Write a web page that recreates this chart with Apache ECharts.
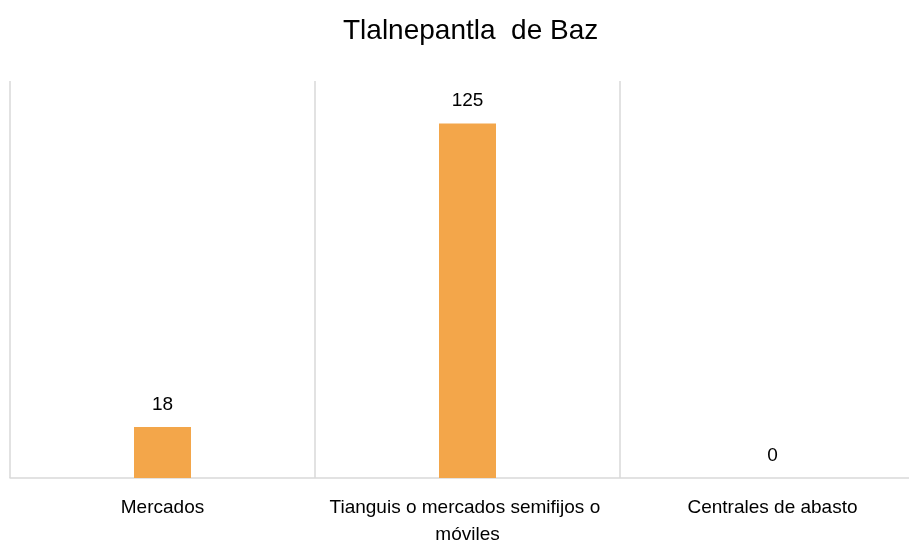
<!DOCTYPE html>
<html>
<head>
<meta charset="utf-8">
<script src="https://cdn.jsdelivr.net/npm/echarts@6/dist/echarts.min.js"></script>
<style>
  html, body { margin: 0; padding: 0; background: #fff; }
  #chart { width: 909px; height: 544px; }
</style>
</head>
<body>
<div id="chart"></div>
<script>
// Establishment counts by type
const categories = ['Mercados', 'Tianguis o mercados semifijos o móviles', 'Centrales de abasto'];
const counts = [18, 125, 0];
const titleText = 'Tlalnepantla  de Baz';

const font = '"Liberation Sans", Arial, sans-serif';
const chart = echarts.init(document.getElementById('chart'));

chart.setOption({
  backgroundColor: '#ffffff',
  animation: false,
  title: {
    text: titleText,
    left: 338,
    top: 12,
    textStyle: { fontFamily: font, fontSize: 28, fontWeight: 'normal', color: '#000' }
  },
  grid: {
    left: 10, top: 81, width: 915, height: 397,
    containLabel: false,
    outerBoundsMode: 'none'
  },
  xAxis: {
    type: 'category',
    data: categories,
    boundaryGap: true,
    axisLine: { show: true, lineStyle: { color: '#d9d9d9', width: 1.5 } },
    axisTick: { show: false },
    splitLine: { show: true, interval: 0, lineStyle: { color: '#d9d9d9', width: 1.5 } },
    axisLabel: {
      interval: 0,
      margin: 16,
      fontFamily: font,
      fontSize: 19,
      lineHeight: 27,
      color: '#000',
      width: 290,
      overflow: 'break'
    }
  },
  yAxis: {
    type: 'value',
    min: 0,
    max: 140,
    show: false,
    splitLine: { show: false }
  },
  series: [{
    type: 'bar',
    data: counts,
    barWidth: 57,
    itemStyle: { color: '#F3A64A' },
    label: {
      show: true,
      position: 'top',
      distance: 13,
      fontFamily: font,
      fontSize: 19,
      color: '#000'
    }
  }]
});
</script>
</body>
</html>
